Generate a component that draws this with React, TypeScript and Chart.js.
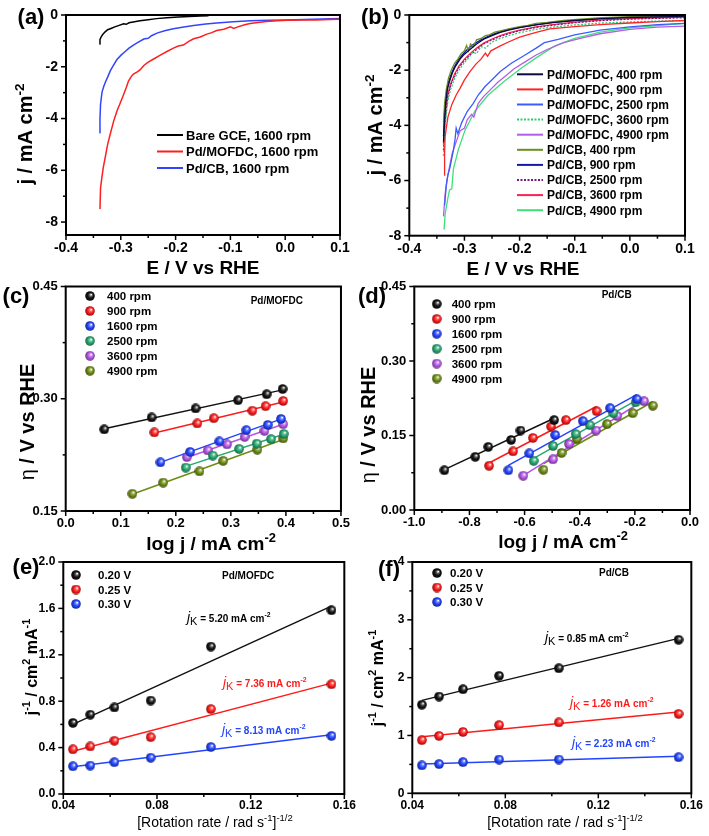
import React, { useEffect, useRef } from "react";
import { Chart, registerables } from "chart.js";

Chart.register(...registerables);

const FONT = "'Liberation Sans', Arial, Helvetica, sans-serif";

// ================= DATA =================
// (a) LSV at 1600 rpm : [E (V vs RHE), j (mA cm-2)]
const aLabels = ["Bare GCE, 1600 rpm", "Pd/MOFDC, 1600 rpm", "Pd/CB, 1600 rpm"];
const aBareGCE: [number, number][] = [[-0.339,-1.12],[-0.338,-0.95],[-0.336,-0.85],[-0.333,-0.75],[-0.329,-0.66],[-0.324,-0.57],[-0.318,-0.52],[-0.311,-0.46],[-0.303,-0.4],[-0.295,-0.34],[-0.29,-0.36],[-0.285,-0.3],[-0.275,-0.26],[-0.265,-0.22],[-0.25,-0.18],[-0.235,-0.14],[-0.216,-0.11],[-0.195,-0.08],[-0.175,-0.06],[-0.155,-0.04],[-0.14,-0.03]];
const aPdMOFDC: [number, number][] = [[-0.338,-7.5],[-0.337,-6.7],[-0.335,-6.35],[-0.332,-5.9],[-0.328,-5.45],[-0.324,-5.0],[-0.319,-4.58],[-0.313,-4.1],[-0.307,-3.71],[-0.301,-3.4],[-0.295,-3.08],[-0.29,-2.8],[-0.286,-2.55],[-0.281,-2.38],[-0.277,-2.28],[-0.27,-2.2],[-0.265,-2.12],[-0.258,-1.95],[-0.25,-1.82],[-0.24,-1.7],[-0.228,-1.55],[-0.215,-1.4],[-0.204,-1.28],[-0.195,-1.2],[-0.186,-1.16],[-0.176,-1.02],[-0.167,-0.92],[-0.155,-0.85],[-0.143,-0.74],[-0.134,-0.68],[-0.125,-0.6],[-0.112,-0.55],[-0.1,-0.46],[-0.094,-0.52],[-0.085,-0.45],[-0.074,-0.38],[-0.064,-0.33],[-0.05,-0.29],[-0.034,-0.25],[-0.015,-0.22],[0.003,-0.2],[0.03,-0.19],[0.057,-0.19],[0.08,-0.17],[0.1,-0.16]];
const aPdCB: [number, number][] = [[-0.339,-4.55],[-0.338,-4.0],[-0.337,-3.46],[-0.335,-3.1],[-0.334,-2.96],[-0.331,-2.75],[-0.328,-2.59],[-0.324,-2.4],[-0.319,-2.15],[-0.313,-1.93],[-0.307,-1.72],[-0.3,-1.56],[-0.292,-1.41],[-0.285,-1.28],[-0.277,-1.16],[-0.268,-1.05],[-0.258,-0.93],[-0.25,-0.9],[-0.244,-0.8],[-0.234,-0.7],[-0.22,-0.61],[-0.204,-0.53],[-0.185,-0.46],[-0.167,-0.41],[-0.145,-0.35],[-0.125,-0.31],[-0.095,-0.26],[-0.064,-0.22],[-0.03,-0.2],[0.003,-0.19],[0.05,-0.16],[0.1,-0.14]];

// (b) LSV at different rotation rates
const bLabels = ["Pd/MOFDC, 400 rpm","Pd/MOFDC, 900 rpm","Pd/MOFDC, 2500 rpm","Pd/MOFDC, 3600 rpm","Pd/MOFDC, 4900 rpm","Pd/CB, 400 rpm","Pd/CB, 900 rpm","Pd/CB, 2500 rpm","Pd/CB, 3600 rpm","Pd/CB, 4900 rpm"];
const bMOF400: [number, number][] = [[-0.338,-4.6],[-0.336,-3.8],[-0.334,-3.2],[-0.331,-2.7],[-0.327,-2.4],[-0.322,-2.1],[-0.316,-1.85],[-0.308,-1.6],[-0.3,-1.42],[-0.29,-1.25],[-0.278,-1.05],[-0.265,-0.88],[-0.25,-0.75],[-0.235,-0.63],[-0.22,-0.55],[-0.2,-0.46],[-0.17,-0.36],[-0.14,-0.28],[-0.1,-0.2],[-0.05,-0.13],[0,-0.09],[0.05,-0.07],[0.1,-0.05]];
const bMOF900: [number, number][] = [[-0.337,-5.8],[-0.336,-5.0],[-0.335,-4.4],[-0.33,-3.7],[-0.323,-3.25],[-0.315,-2.9],[-0.308,-2.66],[-0.3,-2.35],[-0.29,-2.05],[-0.28,-1.8],[-0.27,-1.6],[-0.262,-1.38],[-0.258,-1.5],[-0.252,-1.3],[-0.235,-1.12],[-0.22,-0.98],[-0.2,-0.8],[-0.17,-0.63],[-0.145,-0.5],[-0.1,-0.42],[-0.054,-0.35],[0,-0.29],[0.05,-0.24],[0.1,-0.2]];
const bMOF2500: [number, number][] = [[-0.336,-6.9],[-0.333,-6.2],[-0.33,-5.8],[-0.326,-5.5],[-0.32,-4.9],[-0.317,-4.5],[-0.315,-4.1],[-0.312,-4.3],[-0.305,-3.9],[-0.295,-3.5],[-0.284,-3.2],[-0.275,-2.9],[-0.263,-2.6],[-0.25,-2.35],[-0.235,-2.05],[-0.215,-1.75],[-0.19,-1.45],[-0.17,-1.2],[-0.155,-1.0],[-0.13,-0.88],[-0.1,-0.72],[-0.054,-0.55],[0,-0.43],[0.05,-0.35],[0.1,-0.3]];
const bMOF3600: [number, number][] = [[-0.338,-5.1],[-0.336,-4.3],[-0.333,-3.6],[-0.33,-3.1],[-0.325,-2.7],[-0.318,-2.3],[-0.31,-2.0],[-0.3,-1.72],[-0.292,-1.55],[-0.285,-1.35],[-0.278,-1.4],[-0.27,-1.15],[-0.262,-1.2],[-0.25,-0.98],[-0.235,-0.85],[-0.22,-0.75],[-0.2,-0.64],[-0.17,-0.52],[-0.14,-0.44],[-0.1,-0.36],[-0.05,-0.29],[0,-0.25],[0.05,-0.22],[0.1,-0.2]];
const bMOF4900: [number, number][] = [[-0.338,-7.3],[-0.335,-6.5],[-0.332,-6.0],[-0.328,-5.6],[-0.322,-5.0],[-0.315,-4.6],[-0.308,-4.2],[-0.3,-4.1],[-0.295,-3.8],[-0.287,-3.6],[-0.283,-3.7],[-0.275,-3.2],[-0.265,-2.95],[-0.255,-2.75],[-0.24,-2.45],[-0.225,-2.2],[-0.21,-1.95],[-0.19,-1.7],[-0.17,-1.45],[-0.15,-1.25],[-0.12,-1.0],[-0.09,-0.85],[-0.054,-0.68],[0,-0.52],[0.05,-0.44],[0.1,-0.4]];
const bCB400: [number, number][] = [[-0.338,-3.9],[-0.336,-3.2],[-0.333,-2.7],[-0.329,-2.3],[-0.324,-2.0],[-0.318,-1.75],[-0.312,-1.6],[-0.306,-1.4],[-0.3,-1.3],[-0.296,-1.1],[-0.293,-1.3],[-0.289,-1.05],[-0.284,-1.15],[-0.278,-0.9],[-0.27,-0.85],[-0.262,-0.75],[-0.255,-0.72],[-0.245,-0.62],[-0.235,-0.58],[-0.22,-0.5],[-0.2,-0.42],[-0.185,-0.38],[-0.17,-0.3],[-0.15,-0.27],[-0.12,-0.2],[-0.09,-0.15],[-0.05,-0.1],[0,-0.06],[0.05,-0.04],[0.1,-0.03]];
const bCB900: [number, number][] = [[-0.338,-4.4],[-0.336,-3.5],[-0.333,-2.9],[-0.33,-2.5],[-0.325,-2.2],[-0.319,-1.9],[-0.312,-1.65],[-0.304,-1.45],[-0.295,-1.25],[-0.283,-1.05],[-0.27,-0.9],[-0.255,-0.76],[-0.24,-0.64],[-0.22,-0.53],[-0.2,-0.45],[-0.17,-0.35],[-0.14,-0.27],[-0.1,-0.19],[-0.05,-0.12],[0,-0.08],[0.05,-0.06],[0.1,-0.04]];
const bCB2500: [number, number][] = [[-0.338,-4.9],[-0.336,-4.1],[-0.333,-3.45],[-0.33,-2.95],[-0.325,-2.55],[-0.318,-2.2],[-0.31,-1.9],[-0.3,-1.65],[-0.29,-1.45],[-0.278,-1.25],[-0.265,-1.05],[-0.25,-0.9],[-0.235,-0.78],[-0.22,-0.68],[-0.2,-0.57],[-0.17,-0.45],[-0.14,-0.37],[-0.1,-0.28],[-0.05,-0.2],[0,-0.15],[0.05,-0.12],[0.1,-0.1]];
const bCB3600: [number, number][] = [[-0.338,-4.7],[-0.336,-3.9],[-0.333,-3.3],[-0.33,-2.85],[-0.325,-2.5],[-0.318,-2.15],[-0.31,-1.85],[-0.3,-1.6],[-0.29,-1.4],[-0.278,-1.2],[-0.265,-1.02],[-0.25,-0.87],[-0.235,-0.75],[-0.22,-0.65],[-0.2,-0.55],[-0.17,-0.43],[-0.14,-0.35],[-0.1,-0.26],[-0.05,-0.18],[0,-0.13],[0.05,-0.1],[0.1,-0.08]];
const bCB4900: [number, number][] = [[-0.337,-7.78],[-0.335,-7.22],[-0.33,-6.63],[-0.327,-6.34],[-0.323,-6.3],[-0.32,-5.58],[-0.311,-4.88],[-0.299,-4.18],[-0.281,-3.48],[-0.257,-2.9],[-0.226,-2.37],[-0.196,-1.91],[-0.166,-1.5],[-0.136,-1.12],[-0.1,-0.85],[-0.054,-0.62],[0,-0.47],[0.05,-0.38],[0.1,-0.3]];

// (c),(d) Tafel data per rotation rate
const rpmLabels = ["400 rpm", "900 rpm", "1600 rpm", "2500 rpm", "3600 rpm", "4900 rpm"];
const cLogJ: number[][] = [
  [0.070, 0.156, 0.236, 0.313, 0.365, 0.394],
  [0.161, 0.239, 0.269, 0.339, 0.363, 0.395],
  [0.172, 0.226, 0.279, 0.328, 0.367, 0.391],
  [0.218, 0.267, 0.315, 0.347, 0.373, 0.396],
  [0.220, 0.258, 0.293, 0.325, 0.361, 0.395],
  [0.121, 0.177, 0.243, 0.286, 0.348, 0.395],
];
const cEta: number[][] = [
  [0.259, 0.275, 0.287, 0.298, 0.306, 0.313],
  [0.255, 0.267, 0.274, 0.284, 0.290, 0.297],
  [0.215, 0.229, 0.243, 0.258, 0.265, 0.273],
  [0.208, 0.224, 0.233, 0.240, 0.246, 0.253],
  [0.222, 0.231, 0.239, 0.249, 0.257, 0.266],
  [0.173, 0.188, 0.203, 0.217, 0.232, 0.247],
];
const dLogJ: number[][] = [
  [-0.891, -0.779, -0.732, -0.649, -0.615, -0.493],
  [-0.729, -0.642, -0.570, -0.504, -0.450, -0.339],
  [-0.659, -0.583, -0.489, -0.389, -0.290, -0.193],
  [-0.567, -0.497, -0.415, -0.364, -0.278, -0.197],
  [-0.605, -0.497, -0.439, -0.341, -0.264, -0.167],
  [-0.532, -0.466, -0.411, -0.301, -0.208, -0.135],
];
const dEta: number[][] = [
  [0.080, 0.107, 0.127, 0.141, 0.160, 0.181],
  [0.089, 0.118, 0.145, 0.168, 0.181, 0.199],
  [0.080, 0.114, 0.151, 0.179, 0.205, 0.223],
  [0.099, 0.129, 0.153, 0.171, 0.195, 0.217],
  [0.069, 0.102, 0.133, 0.160, 0.189, 0.219],
  [0.081, 0.115, 0.143, 0.173, 0.195, 0.210],
];

// (e),(f) Koutecky-Levich
const potLabels = ["0.20 V", "0.25 V", "0.30 V"];
const klX = [0.0441, 0.0515, 0.0618, 0.0773, 0.1030, 0.1545];
const eInvJ: number[][] = [
  [0.613, 0.684, 0.746, 0.806, 1.271, 1.584],
  [0.385, 0.410, 0.459, 0.490, 0.732, 0.946],
  [0.239, 0.245, 0.274, 0.313, 0.405, 0.501],
];
const fInvJ: number[][] = [
  [1.532, 1.674, 1.799, 2.031, 2.162, 2.655],
  [0.919, 0.993, 1.061, 1.180, 1.226, 1.373],
  [0.482, 0.505, 0.539, 0.584, 0.584, 0.624],
];
const eJk = ["5.20", "7.36", "8.13"];
const fJk = ["0.85", "1.26", "2.23"];

// ================= STYLE / LAYOUT =================
const aColors = ["#000000", "#ff1f1f", "#3344ff"];
const bColors = ["#0b0b40", "#ff2424", "#3a5cff", "#2ecc71", "#b45ee8", "#6b8e23", "#1818a8", "#7a1a7a", "#ff2050", "#3ee07a"];
const bDash: (number[] | undefined)[] = [undefined, undefined, undefined, [2, 1.5], undefined, undefined, undefined, [2, 1.5], undefined, undefined];
const rpmColors = ["#111111", "#ff1a1a", "#2244ff", "#25a870", "#b455e6", "#6e8c12"];
const potColors = ["#111111", "#ff1a1a", "#2244ff"];
const potTextColors = ["#000000", "#ff1a1a", "#2244ff"];

interface Rect { l: number; t: number; w: number; h: number }
const RECTS: Rect[] = [
  { l: 0, t: 0, w: 356, h: 280 },
  { l: 350, t: 0, w: 359, h: 280 },
  { l: 0, t: 272, w: 356, h: 292 },
  { l: 350, t: 272, w: 359, h: 292 },
  { l: 0, t: 548, w: 362, h: 288 },
  { l: 350, t: 548, w: 359, h: 288 },
];

type Seg = { t: string; sup?: boolean; sub?: boolean; it?: boolean; w?: string; s?: number };
interface TextItem { segs: Seg[]; x: number; y: number; size: number; weight: string; align: "left" | "center"; rot?: boolean; color?: string }
interface LegendItem { label: string; color: string; dash?: number[]; img?: HTMLCanvasElement }
interface LegendSpec { kind: "line" | "sphere"; x1: number; x2: number; tx: number; y0: number; dy: number; size: number; items: LegendItem[] }
interface AxisSpec { min: number; max: number; step: number; dec: number }
interface PanelSpec {
  rect: Rect;
  area: { L: number; T: number; R: number; B: number };
  x: AxisSpec; y: AxisSpec; tickSize: number;
  datasets: any[]; texts: TextItem[]; legend: LegendSpec;
}

function hexRgb(h: string): [number, number, number] {
  const v = parseInt(h.slice(1), 16);
  return [(v >> 16) & 255, (v >> 8) & 255, v & 255];
}
function mix(h: string, t: [number, number, number], k: number) {
  const c = hexRgb(h);
  return `rgb(${Math.round(c[0] + (t[0] - c[0]) * k)},${Math.round(c[1] + (t[1] - c[1]) * k)},${Math.round(c[2] + (t[2] - c[2]) * k)})`;
}
function sphere(color: string, d = 10): HTMLCanvasElement {
  const c = document.createElement("canvas");
  c.width = d; c.height = d;
  const g = c.getContext("2d")!;
  const r = d / 2;
  const grad = g.createRadialGradient(r * 1.25, r * 0.7, r * 0.05, r, r, r);
  grad.addColorStop(0, "#ffffff");
  grad.addColorStop(0.25, mix(color, [255, 255, 255], 0.35));
  grad.addColorStop(0.55, color);
  grad.addColorStop(1, mix(color, [0, 0, 0], 0.45));
  g.fillStyle = grad;
  g.beginPath(); g.arc(r, r, r - 0.2, 0, Math.PI * 2); g.fill();
  return c;
}

function drawRich(ctx: CanvasRenderingContext2D, it: TextItem, ox: number, oy: number) {
  const size = it.size;
  ctx.save();
  ctx.translate(it.x - ox, it.y - oy);
  if (it.rot) ctx.rotate(-Math.PI / 2);
  const parts = it.segs.map((s) => {
    const fs = s.s ?? (s.sup || s.sub ? size * 0.68 : size);
    const font = `${s.it ? "italic " : ""}${s.w ?? it.weight} ${fs}px ${FONT}`;
    ctx.font = font;
    return { s, font, width: ctx.measureText(s.t).width };
  });
  const W = parts.reduce((a, p) => a + p.width, 0);
  let cx = it.align === "center" ? -W / 2 : 0;
  ctx.fillStyle = it.color ?? "#000";
  ctx.textAlign = "left";
  ctx.textBaseline = "alphabetic";
  const base = size * 0.36;
  for (const p of parts) {
    ctx.font = p.font;
    const dy = p.s.sup ? -size * 0.42 : p.s.sub ? size * 0.3 : 0;
    ctx.fillText(p.s.t, cx, base + dy);
    cx += p.width;
  }
  ctx.restore();
}

function makeDeco(spec: PanelSpec) {
  return {
    id: "deco",
    afterDraw(chart: any) {
      const ctx: CanvasRenderingContext2D = chart.ctx;
      const ca = chart.chartArea;
      const ox = spec.rect.l, oy = spec.rect.t;
      const xs = chart.scales.x, ys = chart.scales.y;
      ctx.save();
      ctx.strokeStyle = "#000";
      ctx.lineWidth = 1.5;
      const xv: number[] = xs.ticks.map((t: any) => t.value);
      const yv: number[] = ys.ticks.map((t: any) => t.value);
      const tickX = (v: number, len: number) => {
        const p = xs.getPixelForValue(v);
        ctx.beginPath(); ctx.moveTo(p, ca.bottom); ctx.lineTo(p, ca.bottom + len); ctx.stroke();
      };
      const tickY = (v: number, len: number) => {
        const p = ys.getPixelForValue(v);
        ctx.beginPath(); ctx.moveTo(ca.left, p); ctx.lineTo(ca.left - len, p); ctx.stroke();
      };
      xv.forEach((v) => tickX(v, 5));
      for (let i = 0; i + 1 < xv.length; i++) tickX((xv[i] + xv[i + 1]) / 2, 3);
      yv.forEach((v) => tickY(v, 5));
      for (let i = 0; i + 1 < yv.length; i++) tickY((yv[i] + yv[i + 1]) / 2, 3);
      ctx.lineWidth = 2;
      ctx.strokeRect(ca.left, ca.top, ca.right - ca.left, ca.bottom - ca.top);
      for (const t of spec.texts) drawRich(ctx, t, ox, oy);
      const lg = spec.legend;
      lg.items.forEach((item, i) => {
        const y = lg.y0 + i * lg.dy - oy;
        if (lg.kind === "line") {
          ctx.save();
          ctx.strokeStyle = item.color; ctx.lineWidth = 2;
          ctx.setLineDash(item.dash ?? []);
          ctx.beginPath(); ctx.moveTo(lg.x1 - ox, y); ctx.lineTo(lg.x2 - ox, y); ctx.stroke();
          ctx.restore();
        } else if (item.img) {
          ctx.drawImage(item.img, lg.x1 - ox - item.img.width / 2, y - item.img.height / 2);
        }
        drawRich(ctx, { segs: [{ t: item.label }], x: lg.tx, y: lg.y0 + i * lg.dy, size: lg.size, weight: "bold", align: "left" }, ox, oy);
      });
      ctx.restore();
    },
  };
}

function axisOpts(a: AxisSpec, size: number, isX: boolean, fixed: number) {
  return {
    type: "linear",
    min: a.min, max: a.max,
    grid: { display: false, drawTicks: false },
    border: { display: false },
    ticks: {
      stepSize: a.step, includeBounds: false, autoSkip: false, maxRotation: 0,
      padding: isX ? 6 : 8, color: "#000",
      font: { family: FONT, size, weight: "bold", lineHeight: 1 },
      callback: (v: any) => { let n = Number(v); if (Math.abs(n) < 1e-9) n = 0; return n.toFixed(a.dec); },
    },
    afterFit: (s: any) => { if (isX) s.height = fixed; else s.width = fixed; },
  };
}

function makeConfig(spec: PanelSpec) {
  const r = spec.rect, A = spec.area;
  return {
    type: "scatter",
    data: { datasets: spec.datasets },
    options: {
      animation: false, responsive: false, maintainAspectRatio: false, events: [],
      layout: { padding: { left: 0, top: A.T - r.t, right: r.l + r.w - A.R, bottom: 0 } },
      plugins: { legend: { display: false }, tooltip: { enabled: false } },
      scales: {
        x: axisOpts(spec.x, spec.tickSize, true, r.t + r.h - A.B),
        y: axisOpts(spec.y, spec.tickSize, false, A.L - r.l),
      },
    },
    plugins: [makeDeco(spec)],
  } as any;
}

const pts = (arr: [number, number][]) => arr.map(([x, y]) => ({ x, y }));
const zipPts = (xs: number[], ys: number[]) => xs.map((x, i) => ({ x, y: ys[i] }));
function fitLine(xs: number[], ys: number[]) {
  const n = xs.length;
  const mx = xs.reduce((a, b) => a + b, 0) / n, my = ys.reduce((a, b) => a + b, 0) / n;
  let sxy = 0, sxx = 0;
  xs.forEach((x, i) => { sxy += (x - mx) * (ys[i] - my); sxx += (x - mx) * (x - mx); });
  const b = sxy / sxx, a = my - b * mx;
  const x0 = Math.min(...xs), x1 = Math.max(...xs);
  return [{ x: x0, y: a + b * x0 }, { x: x1, y: a + b * x1 }];
}
const lineDs = (label: string, data: any[], color: string, width = 1.5, dash?: number[]) => ({
  label, data, showLine: true, borderColor: color, backgroundColor: color, borderWidth: width,
  borderDash: dash ?? [], pointRadius: 0, tension: 0, fill: false, order: 1,
});
const sphereDs = (label: string, data: any[], img: HTMLCanvasElement) => ({
  label, data, showLine: false, pointStyle: img, pointRadius: 5, order: 0,
});

const T = (segs: Seg[], x: number, y: number, size: number, extra: Partial<TextItem> = {}): TextItem =>
  ({ segs, x, y, size, weight: "bold", align: "center", ...extra });

function buildSpecs(): PanelSpec[] {
  const rpmImgs = rpmColors.map((c) => sphere(c, 10));
  const potImgs = potColors.map((c) => sphere(c, 10));
  const jTitle: Seg[] = [{ t: "j / mA cm" }, { t: "-2", sup: true }];
  const eTitle: Seg[] = [{ t: "E / V vs RHE" }];
  const etaTitle: Seg[] = [{ t: "η", w: "normal" }, { t: " / V vs RHE" }];
  const logTitle: Seg[] = [{ t: "log j / mA cm" }, { t: "-2", sup: true }];
  const invTitle: Seg[] = [{ t: "j" }, { t: "-1", sup: true }, { t: " / cm" }, { t: "2", sup: true }, { t: " mA" }, { t: "-1", sup: true }];
  const rotTitle: Seg[] = [{ t: "[Rotation rate / rad s" }, { t: "-1", sup: true }, { t: "]" }, { t: "-1/2", sup: true }];
  const jk = (v: string): Seg[] => [{ t: "j", it: true, w: "normal", s: 14 }, { t: "K", sub: true, w: "normal", s: 11 }, { t: " = " + v + " mA cm" }, { t: "-2", sup: true }];

  const aSeries = [aBareGCE, aPdMOFDC, aPdCB];
  const bSeries = [bMOF400, bMOF900, bMOF2500, bMOF3600, bMOF4900, bCB400, bCB900, bCB2500, bCB3600, bCB4900];

  const tafelDs = (X: number[][], Y: number[][]) => [
    ...X.map((xs, i) => sphereDs(rpmLabels[i], zipPts(xs, Y[i]), rpmImgs[i])),
    ...X.map((xs, i) => lineDs(rpmLabels[i] + " fit", fitLine(xs, Y[i]), rpmColors[i], 1.5)),
  ];
  const klDs = (Y: number[][]) => [
    ...Y.map((ys, i) => sphereDs(potLabels[i], zipPts(klX, ys), potImgs[i])),
    ...Y.map((ys, i) => lineDs(potLabels[i] + " fit", fitLine(klX, ys), potColors[i], 1.5)),
  ];

  return [
    {
      rect: RECTS[0], area: { L: 66, T: 7, R: 340, B: 235 },
      x: { min: -0.4, max: 0.1, step: 0.1, dec: 1 }, y: { min: -8.5, max: 0, step: 2, dec: 0 }, tickSize: 14,
      datasets: aSeries.map((s, i) => lineDs(aLabels[i], pts(s), aColors[i], 1.5)),
      texts: [T([{ t: "(a)" }], 31, 16, 22), T(jTitle, 25, 134, 20, { rot: true }), T(eTitle, 203, 267, 19)],
      legend: { kind: "line", x1: 157, x2: 183, tx: 186, y0: 135, dy: 16.5, size: 13, items: aLabels.map((l, i) => ({ label: l, color: aColors[i] })) },
    },
    {
      rect: RECTS[1], area: { L: 409.3, T: 7.3, R: 685, B: 235.7 },
      x: { min: -0.4, max: 0.1, step: 0.1, dec: 1 }, y: { min: -8, max: 0, step: 2, dec: 0 }, tickSize: 14,
      datasets: bSeries.map((s, i) => lineDs(bLabels[i], pts(s), bColors[i], 1.3, bDash[i])),
      texts: [T([{ t: "(b)" }], 375, 16, 22), T(jTitle, 375, 125, 20, { rot: true }), T(eTitle, 523, 268, 19)],
      legend: { kind: "line", x1: 517, x2: 543, tx: 547, y0: 74.3, dy: 15.1, size: 12, items: bLabels.map((l, i) => ({ label: l, color: bColors[i], dash: bDash[i] })) },
    },
    {
      rect: RECTS[2], area: { L: 65.7, T: 284, R: 342, B: 511 },
      x: { min: 0, max: 0.5, step: 0.1, dec: 1 }, y: { min: 0.15, max: 0.45, step: 0.15, dec: 2 }, tickSize: 13,
      datasets: tafelDs(cLogJ, cEta),
      texts: [T([{ t: "(c)" }], 16, 295, 22), T(etaTitle, 27, 422, 20, { rot: true }), T(logTitle, 211, 543, 19),
        T([{ t: "Pd/MOFDC" }], 250.7, 300.7, 10, { align: "left" })],
      legend: { kind: "sphere", x1: 90, x2: 90, tx: 107, y0: 296, dy: 14.95, size: 11.5, items: rpmLabels.map((l, i) => ({ label: l, color: rpmColors[i], img: rpmImgs[i] })) },
    },
    {
      rect: RECTS[3], area: { L: 414.3, T: 281.7, R: 690, B: 510 },
      x: { min: -1, max: 0, step: 0.2, dec: 1 }, y: { min: 0, max: 0.45, step: 0.15, dec: 2 }, tickSize: 13,
      datasets: tafelDs(dLogJ, dEta),
      texts: [T([{ t: "(d)" }], 372, 295, 22), T(etaTitle, 368, 425, 20, { rot: true }), T(logTitle, 563, 541, 19),
        T([{ t: "Pd/CB" }], 601.7, 294, 10, { align: "left" })],
      legend: { kind: "sphere", x1: 436.7, x2: 436.7, tx: 451.7, y0: 304, dy: 14.9, size: 11.5, items: rpmLabels.map((l, i) => ({ label: l, color: rpmColors[i], img: rpmImgs[i] })) },
    },
    {
      rect: RECTS[4], area: { L: 63.3, T: 560, R: 345, B: 794 },
      x: { min: 0.04, max: 0.16, step: 0.04, dec: 2 }, y: { min: 0, max: 2.0, step: 0.4, dec: 1 }, tickSize: 12,
      datasets: klDs(eInvJ),
      texts: [T([{ t: "(e)" }], 26, 566, 22), T(invTitle, 31, 667, 16, { rot: true }), T(rotTitle, 215, 822, 14, { weight: "normal" }),
        T([{ t: "Pd/MOFDC" }], 222, 575, 10, { align: "left" }),
        T(jk(eJk[0]), 187, 618, 10, { align: "left", color: potTextColors[0] }),
        T(jk(eJk[1]), 223, 683, 10, { align: "left", color: potTextColors[1] }),
        T(jk(eJk[2]), 222, 730, 10, { align: "left", color: potTextColors[2] })],
      legend: { kind: "sphere", x1: 76, x2: 76, tx: 98, y0: 575, dy: 14.5, size: 11.5, items: potLabels.map((l, i) => ({ label: l, color: potColors[i], img: potImgs[i] })) },
    },
    {
      rect: RECTS[5], area: { L: 412.3, T: 558.3, R: 693.3, B: 793.3 },
      x: { min: 0.04, max: 0.16, step: 0.04, dec: 2 }, y: { min: 0, max: 4, step: 1, dec: 0 }, tickSize: 12,
      datasets: klDs(fInvJ),
      texts: [T([{ t: "(f)" }], 389, 568, 22), T(invTitle, 377, 678, 16, { rot: true }), T(rotTitle, 565, 822, 14, { weight: "normal" }),
        T([{ t: "Pd/CB" }], 599, 572, 10, { align: "left" }),
        T(jk(fJk[0]), 545, 638, 10, { align: "left", color: potTextColors[0] }),
        T(jk(fJk[1]), 570, 703, 10, { align: "left", color: potTextColors[1] }),
        T(jk(fJk[2]), 572, 743, 10, { align: "left", color: potTextColors[2] })],
      legend: { kind: "sphere", x1: 437, x2: 437, tx: 450, y0: 573, dy: 14.5, size: 11.5, items: potLabels.map((l, i) => ({ label: l, color: potColors[i], img: potImgs[i] })) },
    },
  ];
}

export default function App() {
  const refs = useRef<(HTMLCanvasElement | null)[]>([]);
  useEffect(() => {
    const specs = buildSpecs();
    const charts = specs.map((s, i) => new Chart(refs.current[i]!, makeConfig(s)));
    return () => charts.forEach((c) => c.destroy());
  }, []);
  return (
    <div style={{ position: "absolute", left: 0, top: 0, width: 709, height: 836, background: "#fff", overflow: "hidden" }}>
      {RECTS.map((r, i) => (
        <canvas
          key={i}
          ref={(el) => { refs.current[i] = el; }}
          width={r.w}
          height={r.h}
          style={{ position: "absolute", left: r.l, top: r.t, width: r.w, height: r.h }}
        />
      ))}
    </div>
  );
}
